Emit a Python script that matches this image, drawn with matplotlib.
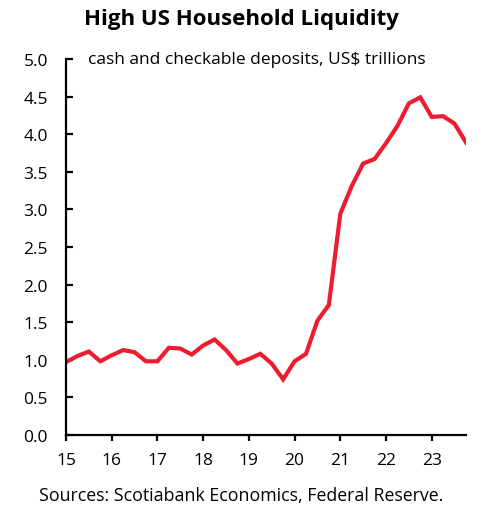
import matplotlib
matplotlib.use('Agg')
import matplotlib.pyplot as plt
import numpy as np

plt.rcParams['font.family'] = ['Open Sans', 'DejaVu Sans']

# Household cash and checkable deposits, quarterly 2015Q1 - 2023Q4 (US$ trillions)
start_year = 15
deposits = [0.97, 1.05, 1.11, 0.98, 1.06, 1.13, 1.10, 0.98,
            0.98, 1.16, 1.15, 1.07, 1.19, 1.27, 1.13, 0.95,
            1.01, 1.08, 0.95, 0.74, 0.98, 1.08, 1.52, 1.73,
            2.94, 3.31, 3.61, 3.67, 3.88, 4.11, 4.41, 4.49,
            4.23, 4.24, 4.14, 3.89]
year_ticks = list(range(15, 24))
y_ticks = np.arange(0, 5.01, 0.5)

quarters = start_year + np.arange(len(deposits)) / 4

fig = plt.figure(figsize=(4.82, 5.06), dpi=100)
ax = fig.add_axes([66 / 482, 1 - 436 / 506, 400 / 482, 376 / 506])

ax.plot(quarters, deposits, color='#ED1C2E', linewidth=3, solid_joinstyle='miter')

ax.set_xlim(15, 23.75)
ax.set_ylim(0, 5)
ax.set_xticks(year_ticks)
ax.set_xticklabels([str(y) for y in year_ticks])
ax.set_yticks(y_ticks)
ax.set_yticklabels([f'{v:.1f}' for v in y_ticks])

for side in ('top', 'right'):
    ax.spines[side].set_visible(False)
for side in ('left', 'bottom'):
    ax.spines[side].set_linewidth(1.6)
    ax.spines[side].set_color('black')

ax.tick_params(axis='y', direction='in', length=5, width=1.6, labelsize=12.5, pad=13)
ax.tick_params(axis='x', direction='out', length=4, width=1.6, labelsize=12.5, pad=8)

ax.text(0.055, 1.0, 'cash and checkable deposits, US$ trillions',
        transform=ax.transAxes, ha='left', va='center', fontsize=12.5)

fig.text(0.5, 1 - 20 / 506, 'High US Household Liquidity', ha='center', va='center',
         fontsize=16, fontweight='bold')
fig.text(0.5, 1 - 496 / 506, 'Sources: Scotiabank Economics, Federal Reserve.',
         ha='center', va='center', fontsize=12.8)

plt.savefig('out.png', dpi=100, facecolor='white')
